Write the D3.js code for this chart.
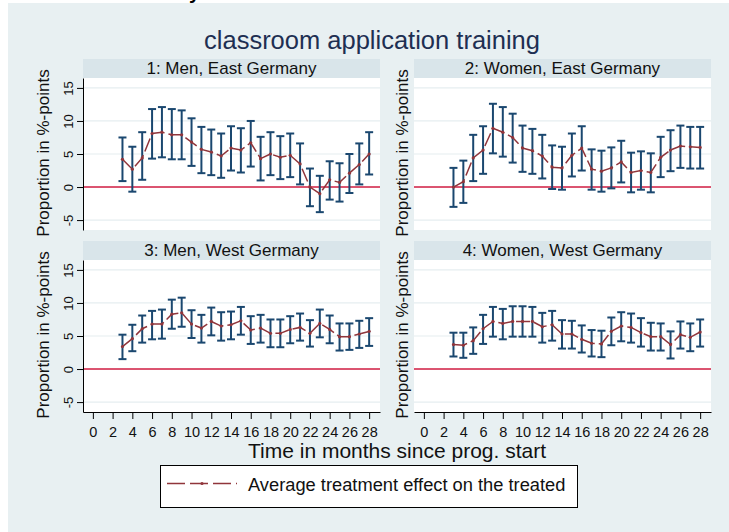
<!DOCTYPE html>
<html>
<head>
<meta charset="utf-8">
<script src="https://cdn.jsdelivr.net/npm/d3@7"></script>
<style>
  html, body { margin: 0; padding: 0; background: #ffffff; }
  svg { display: block; }
</style>
</head>
<body>
<div id="chart"></div>
<script>
// ---------------- data ----------------
const months = [3,4,5,6,7,8,9,10,11,12,13,14,15,16,17,18,19,20,21,22,23,24,25,26,27,28];
const xTicks = [0,2,4,6,8,10,12,14,16,18,20,22,24,26,28];
const yTicks = [-5,0,5,10,15];
const panelTitles = ["1: Men, East Germany","2: Women, East Germany","3: Men, West Germany","4: Women, West Germany"];

const menEastEst   = [4.2,2.7,4.4,8.1,8.3,7.9,7.9,6.8,5.7,5.3,4.7,5.9,5.6,6.7,4.3,5.0,4.5,4.8,3.5,0.0,-1.0,1.1,0.7,2.1,3.4,5.0];
const menEastHi    = [7.5,6.1,8.3,11.8,12.1,11.8,11.6,10.4,9.1,8.7,8.1,9.2,8.9,10.0,7.6,8.3,7.7,8.1,6.6,2.8,1.7,3.9,3.6,5.0,6.6,8.3];
const menEastLo    = [0.9,-0.7,1.1,4.3,4.5,4.2,4.2,3.2,2.1,1.8,1.4,2.5,2.2,3.1,1.0,1.8,1.2,1.5,0.4,-2.9,-3.8,-1.9,-2.2,-0.9,0.4,1.9];

const womenEastEst = [0.0,0.8,4.4,5.6,8.9,8.3,7.5,5.9,5.5,4.7,3.0,2.9,4.8,5.9,2.7,2.4,2.9,3.8,2.2,2.5,2.2,4.5,5.6,6.2,6.1,6.0];
const womenEastHi  = [2.9,4.0,7.9,9.2,12.6,12.1,11.1,9.3,8.8,7.9,6.3,6.1,8.1,9.2,5.7,5.5,6.0,7.0,5.2,5.4,5.1,7.6,8.6,9.3,9.1,9.1];
const womenEastLo  = [-3.0,-2.4,0.9,2.0,5.1,4.6,3.7,2.3,2.0,1.3,-0.3,-0.4,1.6,2.5,-0.4,-0.7,-0.2,0.7,-0.8,-0.4,-0.8,1.5,2.4,2.9,2.8,2.8];

const menWestEst   = [3.4,4.6,6.1,6.8,6.8,8.3,8.5,6.8,6.2,7.2,6.5,6.7,7.3,5.9,6.2,5.4,5.4,6.0,6.3,5.4,6.9,6.0,4.9,4.9,5.3,5.7];
const menWestHi    = [5.2,6.7,8.1,8.8,9.0,10.5,10.8,8.9,8.2,9.3,8.6,8.7,9.4,8.0,8.2,7.5,7.5,8.0,8.4,7.4,9.0,8.1,6.9,6.9,7.3,7.7];
const menWestLo    = [1.5,2.7,4.0,4.5,4.6,6.1,6.4,4.7,4.0,5.1,4.3,4.5,5.2,3.8,4.0,3.3,3.3,3.9,4.3,3.4,4.8,3.9,2.8,2.9,3.2,3.5];

const womenWestEst = [3.7,3.6,4.3,6.1,7.2,6.9,7.2,7.2,7.2,6.4,6.7,5.3,5.3,4.5,3.9,3.8,5.7,6.5,6.3,5.5,4.9,4.9,3.7,5.2,4.8,5.6];
const womenWestHi  = [5.5,5.5,6.3,8.2,9.4,9.1,9.5,9.5,9.4,8.5,8.8,7.4,7.3,6.6,5.9,5.8,7.8,8.6,8.4,7.7,7.0,6.9,5.7,7.2,6.9,7.5];
const womenWestLo  = [1.9,1.7,2.3,3.8,4.9,4.5,4.9,4.9,4.9,4.0,4.3,3.1,3.1,2.5,1.9,1.8,3.6,4.2,4.0,3.4,2.8,2.8,1.6,3.1,2.7,3.4];

const chartTitle = "classroom application training";
const yTitle = "Proportion in %-points";
const xTitle = "Time in months since prog. start";
const legendLabel = "Average treatment effect on the treated";

// ---------------- layout ----------------
const W = 729, H = 532;
const FONT = "'Liberation Sans', Arial, Helvetica, sans-serif";
const bgColor = "#e8f0f2", stripColor = "#d9e5ea";
const navy = "#1a476f", maroon = "#90353b", zeroRed = "#d41f45", gridColor = "#e6eef0";

const svg = d3.select("#chart").append("svg").attr("width", W).attr("height", H);
svg.append("rect").attr("x", 8).attr("y", 3).attr("width", W - 8).attr("height", H - 3).attr("fill", bgColor);

// cut-off glyph at the very top (remnant of a heading above the figure)
svg.append("text").attr("x", 189).attr("y", -1).attr("font-family", FONT).attr("font-size", 20)
  .attr("font-weight", "bold").attr("fill", "#000").text("y");

svg.append("text").attr("x", 372).attr("y", 48.5).attr("text-anchor", "middle")
  .attr("font-family", FONT).attr("font-size", 25.5).attr("fill", "#1e2f52").text(chartTitle);

const panelW = 297;
const colX = [83, 414];
const rows = [{strip: 59, top: 78, bottom: 230}, {strip: 241, top: 260, bottom: 412}];

const panels = [
  {est: menEastEst, hi: menEastHi, lo: menEastLo},
  {est: womenEastEst, hi: womenEastHi, lo: womenEastLo},
  {est: menWestEst, hi: menWestHi, lo: menWestLo},
  {est: womenWestEst, hi: womenWestHi, lo: womenWestLo}
];

panels.forEach((p, i) => {
  const col = i % 2, row = Math.floor(i / 2);
  const x0 = colX[col], r = rows[row];
  const x = d3.scaleLinear().domain([-1, 29.1]).range([x0, x0 + panelW]);
  const y = d3.scaleLinear().domain([-6.5, 16.5]).range([r.bottom, r.top]);
  const g = svg.append("g");

  // strip
  g.append("rect").attr("x", x0).attr("y", r.strip).attr("width", panelW).attr("height", r.top - r.strip).attr("fill", stripColor);
  g.append("text").attr("x", x0 + panelW / 2).attr("y", r.top - 4.5).attr("text-anchor", "middle")
    .attr("font-family", FONT).attr("font-size", 17).attr("fill", "#111").text(panelTitles[i]);

  // plot region
  g.append("rect").attr("x", x0).attr("y", r.top).attr("width", panelW).attr("height", r.bottom - r.top).attr("fill", "#fff");
  g.selectAll(".grid").data(yTicks).join("line")
    .attr("x1", x0).attr("x2", x0 + panelW).attr("y1", d => y(d)).attr("y2", d => y(d))
    .attr("stroke", gridColor).attr("stroke-width", 1.2);
  g.append("line").attr("x1", x0).attr("x2", x0 + panelW).attr("y1", y(0)).attr("y2", y(0))
    .attr("stroke", zeroRed).attr("stroke-width", 1.6);

  // y axis
  const yTitleX = col === 0 ? 49 : 407.5;
  g.append("text").attr("transform", `translate(${yTitleX},${(r.top + r.bottom) / 2 - 1}) rotate(-90)`)
    .attr("text-anchor", "middle").attr("font-family", FONT).attr("font-size", 17).attr("fill", "#111").text(yTitle);
  if (col === 0) {
    const ya = g.append("g").attr("transform", `translate(${x0},0)`)
      .call(d3.axisLeft(y).tickValues(yTicks).tickSize(6).tickSizeOuter(0).tickFormat(d3.format("d")));
    ya.select(".domain").attr("stroke", "#000");
    ya.selectAll(".tick line").attr("stroke", "#000");
    ya.selectAll(".tick text").attr("transform", "rotate(-90)").attr("x", 0).attr("y", -10).attr("dy", 0)
      .attr("text-anchor", "middle").attr("font-family", FONT).attr("font-size", 13).attr("fill", "#111")
      .text(d => d < 0 ? "-" + Math.abs(d) : d);
  }

  // x axis
  if (row === 1) {
    const xa = g.append("g").attr("transform", `translate(0,${r.bottom})`)
      .call(d3.axisBottom(x).tickValues(xTicks).tickSize(7).tickSizeOuter(0));
    xa.select(".domain").attr("stroke", "#000");
    xa.selectAll(".tick line").attr("stroke", "#000");
    xa.selectAll(".tick text").attr("y", 14.4).attr("font-family", FONT).attr("font-size", 14.5).attr("fill", "#111");
  }

  const data = months.map((m, k) => ({m, est: p.est[k], hi: p.hi[k], lo: p.lo[k]}));

  // error bars
  const eb = g.selectAll(".eb").data(data).join("g").attr("stroke", navy).attr("stroke-width", 2);
  eb.append("line").attr("x1", d => x(d.m)).attr("x2", d => x(d.m)).attr("y1", d => y(d.hi)).attr("y2", d => y(d.lo));
  eb.append("line").attr("x1", d => x(d.m) - 4).attr("x2", d => x(d.m) + 4).attr("y1", d => y(d.hi)).attr("y2", d => y(d.hi));
  eb.append("line").attr("x1", d => x(d.m) - 4).attr("x2", d => x(d.m) + 4).attr("y1", d => y(d.lo)).attr("y2", d => y(d.lo));

  // estimate line
  const line = d3.line().x(d => x(d.m)).y(d => y(d.est));
  g.append("path").datum(data).attr("d", line).attr("fill", "none").attr("stroke", maroon)
    .attr("stroke-width", 1.5).attr("stroke-dasharray", "14,4");
  g.selectAll(".pt").data(data).join("circle").attr("cx", d => x(d.m)).attr("cy", d => y(d.est))
    .attr("r", 1.6).attr("fill", maroon);
});

// x title
svg.append("text").attr("x", 397).attr("y", 458).attr("text-anchor", "middle")
  .attr("font-family", FONT).attr("font-size", 21).attr("fill", "#111").text(xTitle);

// legend
const lg = svg.append("g");
lg.append("rect").attr("x", 160.5).attr("y", 465.5).attr("width", 417).attr("height", 42)
  .attr("fill", "#fff").attr("stroke", "#000").attr("stroke-width", 1);
lg.append("line").attr("x1", 167).attr("x2", 237).attr("y1", 483.5).attr("y2", 483.5)
  .attr("stroke", maroon).attr("stroke-width", 1.5).attr("stroke-dasharray", "18,5");
lg.append("circle").attr("cx", 202).attr("cy", 483.5).attr("r", 1.6).attr("fill", maroon);
lg.append("text").attr("x", 248).attr("y", 490.5).attr("font-family", FONT).attr("font-size", 18.3)
  .attr("fill", "#111").text(legendLabel);
</script>
</body>
</html>
